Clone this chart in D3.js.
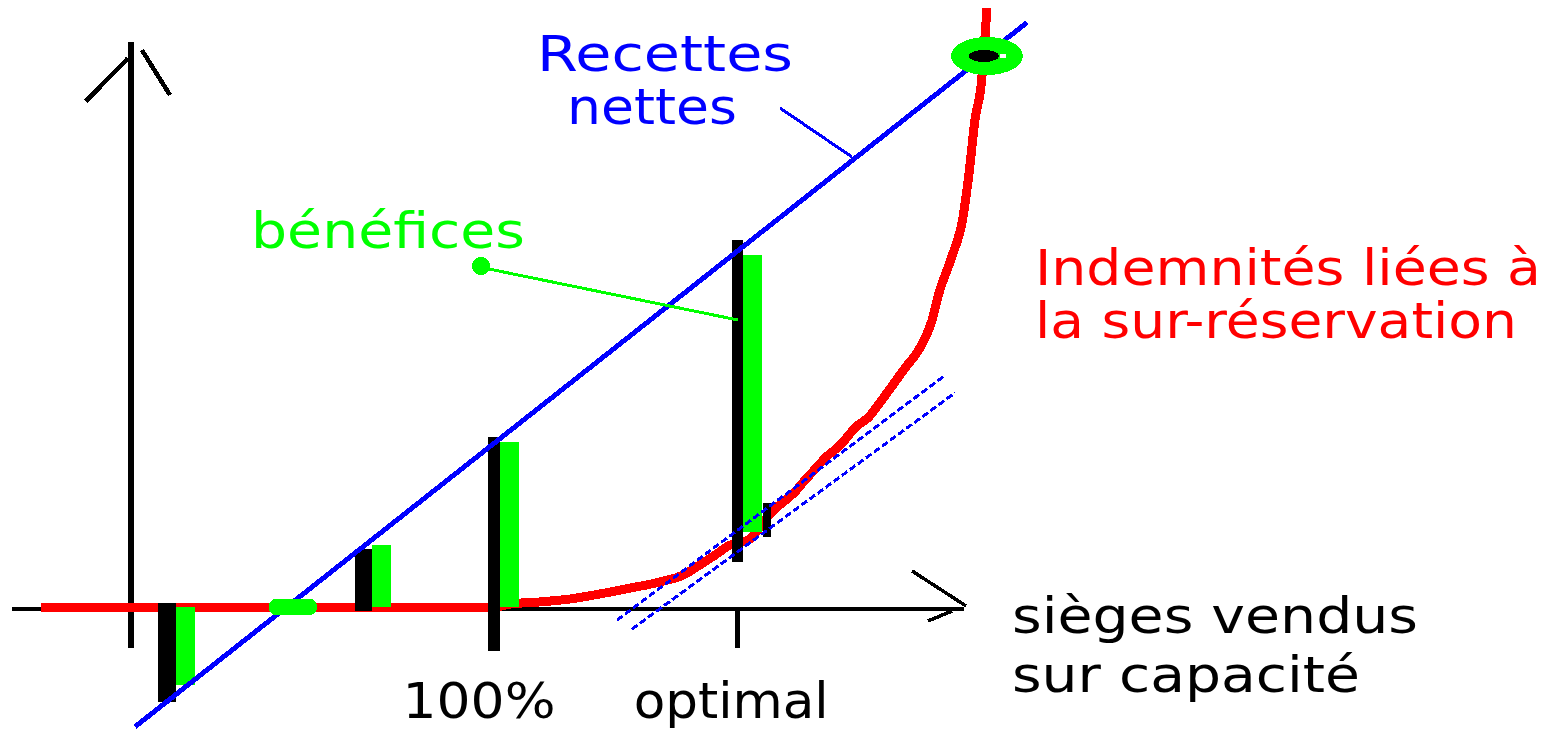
<!DOCTYPE html>
<html>
<head>
<meta charset="utf-8">
<script src="https://cdn.jsdelivr.net/npm/d3@7"></script>
<style>
html, body { margin: 0; padding: 0; background: #fff; overflow: hidden; }
svg { display: block; }
text { font-family: "DejaVu Sans", sans-serif; }
</style>
</head>
<body>
<svg></svg>
<script>
// x = sièges vendus en % de la capacité, y = unités monétaires (schéma)
const seatTicks = [100, 167];
const seatTickLabels = ['100%', 'optimal'];

const recettes = [[1.1, -33], [246.8, 161]];

const indemnites = [
  [-24.8, 0], [100, 0], [104.4, 0.8], [112.7, 1.4], [120.9, 2.2], [129.2, 3.6],
  [137.5, 5.2], [145.7, 6.9], [152.1, 8.8], [156.7, 11.6], [160.9, 14.3],
  [164.5, 16.8], [170.5, 18.7], [174.7, 24], [177.7, 27.3], [180.4, 29.5],
  [182.9, 31.7], [185.7, 35], [188.2, 37.7], [191.5, 41.3], [195.3, 44.5],
  [200, 49.9], [203, 52.1], [206.6, 56.7], [209.9, 61.2], [213.2, 65.8],
  [216.8, 70.5], [220.7, 79.1], [222.6, 86.5], [225.9, 95.9], [229.2, 107.4],
  [230.9, 119.8], [232.5, 134.2], [234.2, 143.8], [235.8, 165]
];

// paires de barres : noire (écart) et verte (bénéfice)
const pairX = [10, 64, 100, 167];
const blackFrom = [1.1, 16, 46.8, 101.1];
const blackTo = [-26.2, -1.1, -12.1, 12.4];
const greenFrom = [0, 17.1, 45.5, 97];
const greenTo = [-21.5, 0, 0, 20.7];

const markX = [175.3];
const markFrom = [28.7];
const markTo = [19.3];

// tangentes parallèles aux recettes
const parallels = [
  [[133.9, -3.6], [223.7, 63.4]],
  [[138, -6.1], [227, 59]]
];

const breakEven = [[44.6, 0], [235.8, 151.8]];

const axisXExtent = [-32.8, 229.5];
const axisYExtent = [-11.3, 155.6];

const width = 1556, height = 731;
const BLUE = '#0000ff', RED = '#ff0000', GREEN = '#00ff00', BLACK = '#000';

const svg = d3.select('svg')
  .attr('width', width)
  .attr('height', height)
  .style('background-color', '#fff');

const x = d3.scaleLinear().domain([0, 100]).range([131, 494]);
const y = d3.scaleLinear().domain([0, 100]).range([607, 244]);

const line = d3.line().x(d => x(d[0])).y(d => y(d[1]));

const g = svg.append('g').attr('shape-rendering', 'crispEdges');

// axes
const ax0 = x(axisXExtent[0]), ax1 = x(axisXExtent[1]), ay = y(0) + 2;
g.append('line')
  .attr('x1', ax0).attr('x2', ax1).attr('y1', ay).attr('y2', ay)
  .attr('stroke', BLACK).attr('stroke-width', 4);
g.append('path')
  .attr('d', `M${ax1 - 52},${ay - 38} L${ax1 + 2},${ay - 3} M${ax1 - 36},${ay + 12} L${ax1 - 12},${ay + 2}`)
  .attr('fill', 'none').attr('stroke', BLACK).attr('stroke-width', 3.5);

const vx = x(0), vy0 = y(axisYExtent[0]), vy1 = y(axisYExtent[1]);
g.append('line')
  .attr('x1', vx).attr('x2', vx).attr('y1', vy0).attr('y2', vy1)
  .attr('stroke', BLACK).attr('stroke-width', 6);
g.append('path')
  .attr('d', `M${vx - 45},${vy1 + 59} L${vx - 3},${vy1 + 16} M${vx + 11},${vy1 + 8} L${vx + 39},${vy1 + 53}`)
  .attr('fill', 'none').attr('stroke', BLACK).attr('stroke-width', 4.5);

// graduations sous l'axe
g.selectAll('.tick-mark')
  .data(seatTicks)
  .join('line')
  .attr('class', 'tick-mark')
  .attr('x1', d => x(d)).attr('x2', d => x(d))
  .attr('y1', y(0)).attr('y2', y(axisYExtent[0]))
  .attr('stroke', BLACK).attr('stroke-width', 5);

// indemnités
g.append('path')
  .attr('d', d3.line().x(d => x(d[0])).y(d => y(d[1])).curve(d3.curveMonotoneX)(indemnites))
  .attr('fill', 'none').attr('stroke', RED).attr('stroke-width', 9)
  .attr('stroke-linejoin', 'round');

// barres
const blackW = [18, 17, 12, 11];
const greenW = 19;
g.selectAll('.bar-black')
  .data(pairX)
  .join('rect')
  .attr('class', 'bar-black')
  .attr('x', (d, i) => x(d) - blackW[i] / 2)
  .attr('width', (d, i) => blackW[i])
  .attr('y', (d, i) => Math.min(y(blackFrom[i]), y(blackTo[i])))
  .attr('height', (d, i) => Math.abs(y(blackFrom[i]) - y(blackTo[i])))
  .attr('fill', BLACK);

g.selectAll('.bar-green')
  .data(pairX)
  .join('rect')
  .attr('class', 'bar-green')
  .attr('x', (d, i) => x(d) + blackW[i] / 2)
  .attr('width', greenW)
  .attr('y', (d, i) => Math.min(y(greenFrom[i]), y(greenTo[i])))
  .attr('height', (d, i) => Math.abs(y(greenFrom[i]) - y(greenTo[i])))
  .attr('fill', GREEN);

g.selectAll('.mark')
  .data(markX)
  .join('rect')
  .attr('class', 'mark')
  .attr('x', d => x(d) - 4)
  .attr('width', 8)
  .attr('y', (d, i) => y(markFrom[i]))
  .attr('height', (d, i) => y(markTo[i]) - y(markFrom[i]))
  .attr('fill', BLACK);

// recettes nettes
g.append('path')
  .attr('d', line(recettes))
  .attr('fill', 'none').attr('stroke', BLUE).attr('stroke-width', 5);

g.selectAll('.parallel')
  .data(parallels)
  .join('path')
  .attr('class', 'parallel')
  .attr('d', line)
  .attr('fill', 'none').attr('stroke', BLUE).attr('stroke-width', 3)
  .attr('stroke-dasharray', '7,3');

// points d'équilibre
g.append('rect')
  .attr('x', x(breakEven[0][0]) - 24).attr('y', y(breakEven[0][1]) - 8)
  .attr('width', 48).attr('height', 16).attr('rx', 7)
  .attr('fill', GREEN);

const topPoint = breakEven[1];
g.append('ellipse')
  .attr('cx', x(topPoint[0])).attr('cy', y(topPoint[1]))
  .attr('rx', 36).attr('ry', 19).attr('fill', GREEN);
g.append('ellipse')
  .attr('cx', x(topPoint[0]) - 3).attr('cy', y(topPoint[1]))
  .attr('rx', 15).attr('ry', 6).attr('fill', BLACK);
g.append('rect')
  .attr('x', x(topPoint[0]) + 13).attr('y', y(topPoint[1]) - 2)
  .attr('width', 6).attr('height', 4).attr('fill', '#fff');

// renvois des étiquettes
g.append('line')
  .attr('x1', 780).attr('y1', 108).attr('x2', 852).attr('y2', 157)
  .attr('stroke', BLUE).attr('stroke-width', 3);
g.append('line')
  .attr('x1', 484).attr('y1', 268).attr('x2', 738).attr('y2', 320)
  .attr('stroke', GREEN).attr('stroke-width', 3);
g.append('circle')
  .attr('cx', 481).attr('cy', 266).attr('r', 9).attr('fill', GREEN);

// textes
const labels = [
  {t: 'Recettes', x: 537, y: 71, len: 256, c: BLUE},
  {t: 'nettes', x: 567, y: 124, len: 170, c: BLUE},
  {t: 'bénéfices', x: 251, y: 248, len: 274, c: GREEN},
  {t: 'Indemnités liées à', x: 1035, y: 285, len: 506, c: RED},
  {t: 'la sur-réservation', x: 1035, y: 338, len: 482, c: RED},
  {t: 'sièges vendus', x: 1012, y: 633, len: 406, c: BLACK},
  {t: 'sur capacité', x: 1012, y: 692, len: 348, c: BLACK}
];

svg.selectAll('.label')
  .data(labels)
  .join('text')
  .attr('class', 'label')
  .attr('x', d => d.x).attr('y', d => d.y)
  .attr('textLength', d => d.len)
  .attr('lengthAdjust', 'spacingAndGlyphs')
  .attr('font-size', 50)
  .attr('fill', d => d.c)
  .text(d => d.t);

const tickLabelDx = [-15, -6];
const tickLabelLen = [153, 195];
svg.selectAll('.tick-label')
  .data(seatTicks)
  .join('text')
  .attr('class', 'tick-label')
  .attr('transform', (d, i) => `translate(${x(d) + tickLabelDx[i] - tickLabelLen[i] / 2},718) scale(1,1.15)`)
  .attr('textLength', (d, i) => tickLabelLen[i])
  .attr('lengthAdjust', 'spacingAndGlyphs')
  .attr('font-size', 44)
  .attr('fill', BLACK)
  .text((d, i) => seatTickLabels[i]);
</script>
</body>
</html>
